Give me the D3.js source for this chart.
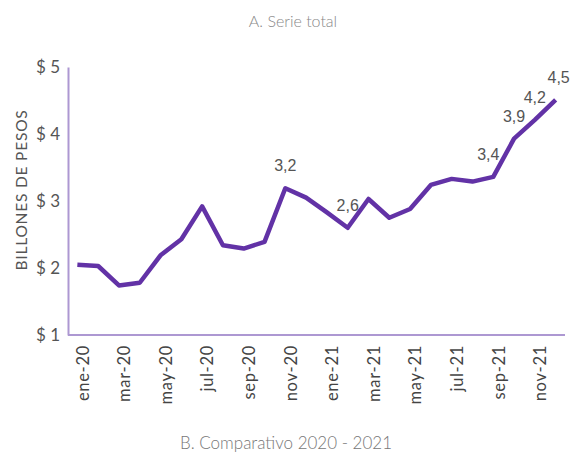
<!DOCTYPE html>
<html>
<head>
<meta charset="utf-8">
<script src="https://cdn.jsdelivr.net/npm/d3@7"></script>
<style>
	body { margin: 0; background: #fff; }
	svg { display: block; }
</style>
</head>
<body>
<svg id="chart" width="571" height="459"></svg>
<script>
const months = [
	'ene-20', 'feb-20', 'mar-20', 'abr-20', 'may-20', 'jun-20',
	'jul-20', 'ago-20', 'sep-20', 'oct-20', 'nov-20', 'dic-20',
	'ene-21', 'feb-21', 'mar-21', 'abr-21', 'may-21', 'jun-21',
	'jul-21', 'ago-21', 'sep-21', 'oct-21', 'nov-21', 'dic-21'
]
const values = [
	2.05, 2.03, 1.74, 1.78, 2.19, 2.43,
	2.92, 2.34, 2.29, 2.39, 3.19, 3.05,
	2.83, 2.6, 3.03, 2.75, 2.88, 3.24,
	3.33, 3.29, 3.36, 3.93, 4.21, 4.51
]
// meses con etiqueta de valor
const labeled = ['nov-20', 'feb-21', 'sep-21', 'oct-21', 'nov-21', 'dic-21']
const labelText = ['3,2', '2,6', '3,4', '3,9', '4,2', '4,5']
const yTicks = [1, 2, 3, 4, 5]

const svg = d3.select('#chart')
const axisColor = '#ad98d2'
const lineColor = '#6232a6'
const font = 'Lato, "Open Sans", sans-serif'

const x = d3.scalePoint().domain(months).range([68, 565]).padding(0.45)
const y = d3.scaleLinear().domain([1, 5]).range([335, 67])

// titulo superior
svg.append('text')
	.attr('x', 293).attr('y', 27)
	.attr('text-anchor', 'middle')
	.attr('font-family', font).attr('font-weight', 300)
	.attr('font-size', 16).attr('fill', '#888')
	.text('A. Serie total')

// eje y
const yAxis = svg.append('g')
	.attr('transform', 'translate(68,0)')
	.call(d3.axisLeft(y).tickValues(yTicks).tickSize(0).tickPadding(8).tickFormat(d => '$ ' + d))
yAxis.select('.domain').attr('stroke', axisColor).attr('stroke-width', 2)
yAxis.selectAll('.tick text')
	.attr('font-family', font).attr('font-size', 17).attr('fill', '#555')

svg.append('text')
	.attr('transform', 'translate(27,190) rotate(-90)')
	.attr('text-anchor', 'middle')
	.attr('font-family', font).attr('font-size', 15.5).attr('fill', '#555')
	.attr('letter-spacing', 0.8)
	.text('BILLONES DE PESOS')

// eje x
const xAxis = svg.append('g')
	.attr('transform', 'translate(0,335)')
	.call(d3.axisBottom(x).tickValues(months.filter((d, i) => i % 2 === 0)).tickSize(0))
xAxis.select('.domain').attr('stroke', axisColor).attr('stroke-width', 2)
	.attr('d', 'M68,0H565')
xAxis.selectAll('.tick text')
	.attr('font-family', font).attr('font-size', 16.5).attr('fill', '#444')
	.attr('letter-spacing', 0.7)
	.attr('text-anchor', 'end')
	.attr('transform', 'translate(5,0) rotate(-90)')
	.attr('x', -10).attr('y', 0).attr('dy', '0.35em')

// linea
const line = d3.line()
	.x((d, i) => x(months[i]))
	.y(d => y(d))

svg.append('path')
	.datum(values)
	.attr('fill', 'none')
	.attr('stroke', lineColor)
	.attr('stroke-width', 4.5)
	.attr('stroke-linejoin', 'round')
	.attr('d', line)

// etiquetas de valor
svg.append('g')
	.selectAll('text')
	.data(labeled)
	.join('text')
	.attr('x', d => x(d) + (d === 'sep-21' ? -5 : d === 'dic-21' ? 3 : 0))
	.attr('y', d => y(values[months.indexOf(d)]) - 17)
	.attr('text-anchor', 'middle')
	.attr('font-family', '"Liberation Sans", Arial, sans-serif')
	.attr('font-size', 16).attr('fill', '#555')
	.text((d, i) => labelText[i])

// titulo inferior
svg.append('text')
	.attr('x', 286).attr('y', 449)
	.attr('text-anchor', 'middle')
	.attr('font-family', font).attr('font-weight', 300)
	.attr('font-size', 17).attr('fill', '#777')
	.text('B. Comparativo 2020 - 2021')
</script>
</body>
</html>
